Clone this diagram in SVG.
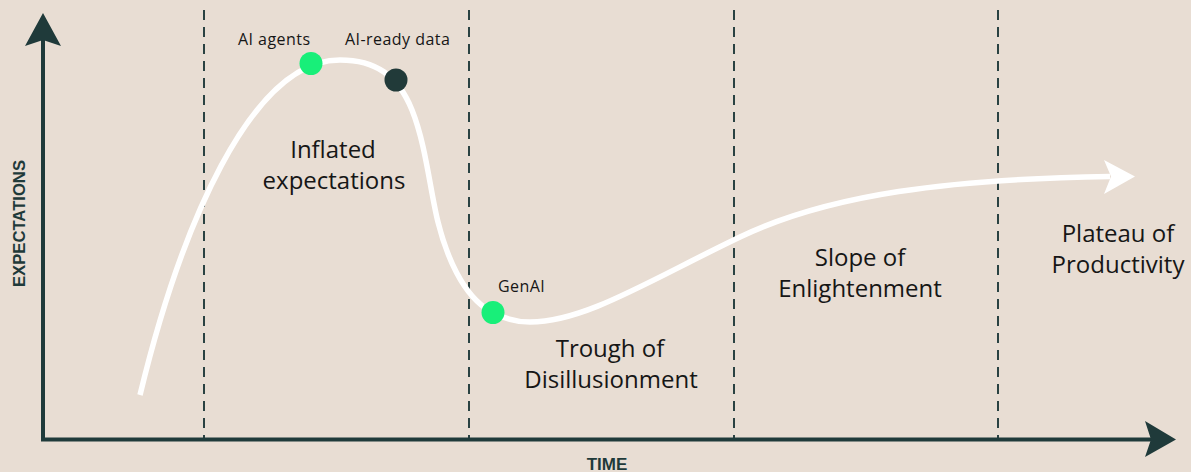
<svg xmlns="http://www.w3.org/2000/svg" width="1191" height="472" viewBox="0 0 1191 472">
  <style>
    .axis { stroke: #1f3a3a; stroke-width: 4; fill: none; }
    .head { fill: #1f3a3a; }
    .grid { stroke: #2a4242; stroke-width: 2; stroke-dasharray: 10 7; fill: none; }
    .curve { stroke: #ffffff; stroke-width: 5.5; fill: none; stroke-linecap: butt; stroke-linejoin: round; }
    .phase { font-family: "Open Sans", "Liberation Sans", sans-serif; font-size: 24px; fill: #161616; text-anchor: middle; }
    .tag { font-family: "Open Sans", "Liberation Sans", sans-serif; font-size: 16px; letter-spacing: 0.45px; fill: #161616; }
    .axislabel { font-family: "Liberation Sans", Arial, sans-serif; font-weight: bold; fill: #1f3a3a; text-anchor: middle; }
    .hot { fill: #18ef79; }
    .cool { fill: #213a39; }
  </style>

  <rect x="0" y="0" width="1191" height="472" fill="#e8ddd3"/>

  <!-- phase separators -->
  <g id="separators">
    <line class="grid" x1="204" y1="10" x2="204" y2="438"/>
    <line class="grid" x1="469" y1="10" x2="469" y2="438"/>
    <line class="grid" x1="734" y1="10" x2="734" y2="438"/>
    <line class="grid" x1="998" y1="10" x2="998" y2="438"/>
  </g>

  <!-- axes -->
  <g id="axes">
    <line class="axis" x1="43" y1="441" x2="43" y2="38"/>
    <polygon class="head" points="43,13 61,46 43,40 25,46"/>
    <line class="axis" x1="41" y1="439.5" x2="1152" y2="439.5"/>
    <polygon class="head" points="1176,439.5 1145,421 1151,439.5 1145,457"/>
    <text class="axislabel" font-size="17" x="607" y="470">TIME</text>
    <text class="axislabel" font-size="16.5" textLength="127" lengthAdjust="spacingAndGlyphs" transform="translate(25,223.5) rotate(-90)" x="0" y="0">EXPECTATIONS</text>
  </g>

  <!-- hype curve -->
  <g id="connectors">
    <path class="curve" d="M140,395 C180,230 250,60 340,60 C375,60 398,75 412,110 C426,145 430,190 438,222 C446,254 462,295 490,311 C504,319 515,322 530,322 C585,322 650,280 740,237 C830,194 950,179 1110,176.5"/>
    <polygon fill="#ffffff" points="1135,176.5 1104,160 1111,176.5 1104,194"/>
  </g>

  <!-- phase labels -->
  <g id="inflated">
    <text class="phase" x="333" y="158">Inflated</text>
    <text class="phase" x="334" y="189">expectations</text>
  </g>
  <g id="trough">
    <text class="phase" x="610" y="357">Trough of</text>
    <text class="phase" x="611" y="388">Disillusionment</text>
  </g>
  <g id="slope">
    <text class="phase" x="860" y="266">Slope of</text>
    <text class="phase" x="860" y="297">Enlightenment</text>
  </g>
  <g id="plateau">
    <text class="phase" x="1118" y="241.5">Plateau of</text>
    <text class="phase" x="1118" y="272.5">Productivity</text>
  </g>

  <!-- technology markers -->
  <g id="ai-agents">
    <circle class="hot" cx="311" cy="63.5" r="11.5"/>
    <text class="tag" x="238" y="45">AI agents</text>
  </g>
  <g id="ai-ready-data">
    <circle class="cool" cx="396" cy="80" r="11.5"/>
    <text class="tag" x="345" y="45">AI-ready data</text>
  </g>
  <g id="genai">
    <circle class="hot" cx="493" cy="312.5" r="11.5"/>
    <text class="tag" x="498" y="292">GenAI</text>
  </g>
</svg>
